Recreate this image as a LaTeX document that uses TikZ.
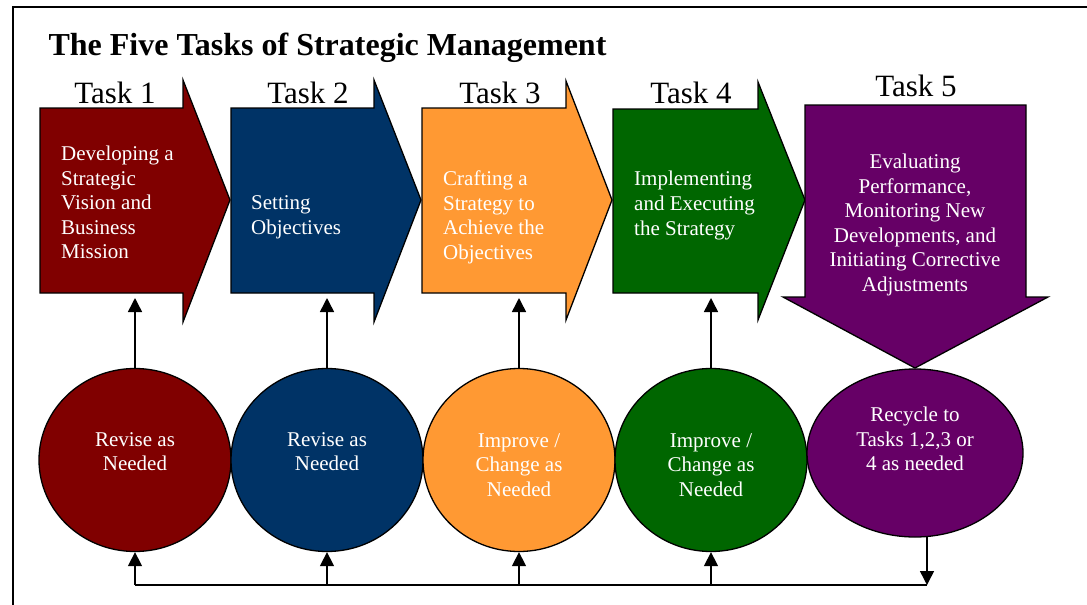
\documentclass[tikz,border=0pt]{standalone}
\usepackage{fontspec}
\setmainfont{Liberation Serif}
\usepackage{tikz}
\usetikzlibrary{arrows.meta,shapes.geometric}

\definecolor{taskred}{HTML}{800000}
\definecolor{taskblue}{HTML}{003366}
\definecolor{taskorange}{HTML}{FF9933}
\definecolor{taskgreen}{HTML}{006600}
\definecolor{taskpurple}{HTML}{660066}

\begin{document}
\begin{tikzpicture}[x=1pt, y=-1pt,
    taskshape/.style={draw=black, line width=1.3pt, line join=miter},
    tasklabel/.style={anchor=base, font=\fontsize{31}{36}\selectfont},
    tasktext/.style={text=white, align=left, anchor=west, inner sep=0pt, font=\fontsize{21}{24.6}\selectfont},
    loopbox/.style={ellipse, draw=black, line width=1.3pt, inner sep=0pt},
    looptext/.style={text=white, align=center, inner sep=0pt, font=\fontsize{21}{24.6}\selectfont},
    conn/.style={line width=1.5pt, -{Triangle[width=14pt, length=14pt]}}]
        \useasboundingbox (0,0) rectangle (1087,605);

        % Frame and title
        \draw[line width=2pt] (1087,7) -- (13,7) -- (13,605);
        \node[anchor=base west, font=\fontsize{32}{36}\selectfont\bfseries] (title) at (45,55) {The Five Tasks of Strategic Management};

        % Task arrows
        \draw[taskshape, fill=taskred] (40,108) -- (183,108) -- (183,80) -- (230,200) -- (183,322) -- (183,293) -- (40,293) -- cycle;
        \draw[taskshape, fill=taskblue] (231,108) -- (374,108) -- (374,80) -- (421,200) -- (374,322) -- (374,293) -- (231,293) -- cycle;
        \draw[taskshape, fill=taskorange] (422,108) -- (566,108) -- (566,81) -- (612,200) -- (566,320) -- (566,293) -- (422,293) -- cycle;
        \draw[taskshape, fill=taskgreen] (613,109) -- (758,109) -- (758,82) -- (805,200) -- (758,320) -- (758,293) -- (613,293) -- cycle;
        \draw[taskshape, fill=taskpurple] (805,105) -- (1026,105) -- (1026,297) -- (1048,297) -- (915,368) -- (783,297) -- (805,297) -- cycle;

        % Task labels
        \node[tasklabel] (task1) at (115,103) {Task 1};
        \node[tasklabel] (task2) at (308,103) {Task 2};
        \node[tasklabel] (task3) at (500,103) {Task 3};
        \node[tasklabel] (task4) at (691,103) {Task 4};
        \node[tasklabel] (task5) at (916,96) {Task 5};

        % Task texts
        \node[tasktext] (vision) at (61,202.5) {Developing a\\Strategic\\Vision and\\Business\\Mission};
        \node[tasktext] (objectives) at (251,217.5) {Setting\\Objectives};
        \node[tasktext] (strategy) at (443,217.5) {Crafting a\\Strategy to\\Achieve the\\Objectives};
        \node[tasktext] (execute) at (634,205.5) {Implementing\\and Executing\\the Strategy};
        \node[looptext] (evaluate) at (915,225) {Evaluating\\Performance,\\Monitoring New\\Developments, and\\Initiating Corrective\\Adjustments};

        % Feedback ellipses
        \node[loopbox, fill=taskred, minimum width=192pt, minimum height=183pt] (e1) at (135,460) {};
        \node[loopbox, fill=taskblue, minimum width=192pt, minimum height=183pt] (e2) at (327,460) {};
        \node[loopbox, fill=taskorange, minimum width=192pt, minimum height=183pt] (e3) at (519,460) {};
        \node[loopbox, fill=taskgreen, minimum width=192pt, minimum height=183pt] (e4) at (711,460) {};
        \node[loopbox, fill=taskpurple, minimum width=216pt, minimum height=168pt] (e5) at (915,453) {};

        \node[looptext] (revise1) at (135,451.5) {Revise as\\Needed};
        \node[looptext] (revise2) at (327,451.5) {Revise as\\Needed};
        \node[looptext] (improve3) at (519,465) {Improve /\\Change as\\Needed};
        \node[looptext] (improve4) at (711,465) {Improve /\\Change as\\Needed};
        \node[looptext] (recycle) at (915,439) {Recycle to\\Tasks 1,2,3 or\\4 as needed};

        % Arrows up into the tasks
        \coordinate (u1) at (135,298);
        \coordinate (u2) at (327,298);
        \coordinate (u3) at (519,298);
        \coordinate (u4) at (711,298);
        \draw[conn] (e1.north) -- (u1);
        \draw[conn] (e2.north) -- (u2);
        \draw[conn] (e3.north) -- (u3);
        \draw[conn] (e4.north) -- (u4);

        % Recycle loop along the bottom
        \coordinate (f1) at (135,585);
        \coordinate (f2) at (327,585);
        \coordinate (f3) at (519,585);
        \coordinate (f4) at (711,585);
        \coordinate (f5) at (927,585);
        \coordinate (r5) at (927,537);
        \draw[conn] (r5) -- (f5);
        \draw[line width=1.5pt] (f1) -- (f5);
        \draw[conn] (f1) -- (e1.south);
        \draw[conn] (f2) -- (e2.south);
        \draw[conn] (f3) -- (e3.south);
        \draw[conn] (f4) -- (e4.south);
    \end{tikzpicture}
\end{document}
